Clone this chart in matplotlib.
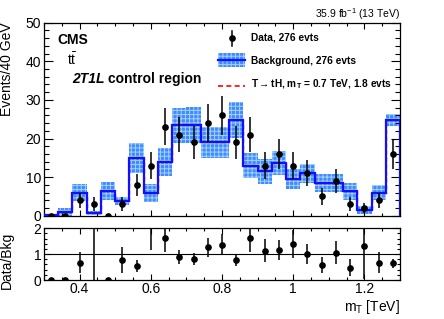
import numpy as np
import matplotlib
matplotlib.use("Agg")
import matplotlib.pyplot as plt
from matplotlib.patches import Rectangle
from matplotlib.lines import Line2D
from matplotlib.ticker import MultipleLocator

plt.rcParams['font.family'] = ['Liberation Sans', 'DejaVu Sans']
plt.rcParams['mathtext.fontset'] = 'custom'
plt.rcParams['mathtext.rm'] = 'Liberation Sans'
plt.rcParams['mathtext.it'] = 'Liberation Sans:italic'
plt.rcParams['mathtext.bf'] = 'Liberation Sans:bold'
plt.rcParams['hatch.linewidth'] = 0.7

# ---- data ----
bin_edges = np.linspace(0.3, 1.3, 26)
data = [0, 0, 4, 3, 0, 3, 8, 13, 23, 21, 19, 24, 26, 19, 21, 13, 16, 13, 11, 5, 9, 3, 2, 4, 16]
bkg = [0.3, 1.0, 6.0, 0.7, 6.4, 3.8, 15.0, 5.9, 14.0, 23.4, 23.5, 19.0, 19.0, 24.8, 13.0, 11.5,
       13.7, 9.4, 11.0, 8.5, 8.5, 6.3, 1.5, 6.0, 24.8]
bkg_err = [0.2, 1.1, 2.2, 0.6, 2.3, 1.0, 3.9, 2.3, 3.6, 4.6, 4.7, 4.0, 4.0, 4.6, 3.3, 3.2,
           3.1, 2.6, 2.5, 2.3, 2.3, 2.3, 1.0, 2.0, 1.5]
signal = [0, 0, 0, 0, 0, 0.02, 0.05, 0.1, 0.2, 0.3, 0.35, 0.3, 0.2, 0.1, 0.08, 0.04,
          0.03, 0.02, 0.01, 0, 0, 0, 0, 0, 0]
x_ticks = [0.4, 0.6, 0.8, 1.0, 1.2]
x_ticklabels = ['0.4', '0.6', '0.8', '1', '1.2']

d = np.array(data, float)
b = np.array(bkg, float)
be = np.array(bkg_err, float)
s = np.array(signal, float)
centers = 0.5 * (bin_edges[:-1] + bin_edges[1:])
width = bin_edges[1] - bin_edges[0]

W, H = 444, 319
fig = plt.figure(figsize=(W / 100, H / 100), dpi=100)

def fx(px):
    return px / W

def fy(py):
    return 1 - py / H

ax = fig.add_axes([fx(44), fy(215.7), fx(400) - fx(44), fy(22.7) - fy(215.7)])
axr = fig.add_axes([fx(44), fy(280), fx(400) - fx(44), fy(228.3) - fy(280)])

band_face = '#3f8cff'
band_hatch = '#a6d0ff'

# band
lo = np.clip(b - be, 0, None)
hi = b + be
ax.bar(centers, hi - lo, bottom=lo, width=width, color=band_face, hatch='++++',
       edgecolor=band_hatch, linewidth=0, zorder=1)
# signal (stacked) dashed
ax.stairs(b + s, bin_edges, color='red', lw=1.0, linestyle=(0, (3, 2)), zorder=2)
# background line
ax.stairs(b, bin_edges, color='#1010ff', lw=1.6, zorder=3)
# data
derr = np.sqrt(d)
ax.errorbar(centers, d, yerr=derr, fmt='o', color='black', ms=3.8, elinewidth=1.1,
            capsize=0, zorder=4)

ax.set_xlim(0.3, 1.3)
ax.set_ylim(0, 50)
ax.xaxis.set_major_locator(MultipleLocator(0.2))
ax.xaxis.set_minor_locator(MultipleLocator(0.05))
ax.yaxis.set_major_locator(MultipleLocator(10))
ax.yaxis.set_minor_locator(MultipleLocator(2))
ax.tick_params(which='both', direction='in', top=True, right=True, labelsize=10)
ax.tick_params(which='major', axis='y', length=6.5, width=0.8, pad=2)
ax.tick_params(which='minor', axis='y', length=3.3, width=0.8)
ax.tick_params(which='major', axis='x', length=4.5, width=0.8)
ax.tick_params(which='minor', axis='x', length=2.3, width=0.8)
ax.tick_params(axis='x', labelbottom=False)
ax.set_ylabel('Events/40 GeV', fontsize=10, loc='top')
ax.yaxis.set_label_coords((14 - 44) / 356, 1.0)

# ratio
with np.errstate(divide='ignore', invalid='ignore'):
    r = d / b
    rel = np.sqrt(np.where(d > 0, 1.0 / np.where(d > 0, d, 1), 0) + (be / b) ** 2)
    rerr = np.where(d > 0, r * rel, 0)
axr.axhline(1, color='black', lw=0.8, zorder=1)
axr.errorbar(centers, r, yerr=rerr, fmt='o', color='black', ms=3.8, elinewidth=1.1,
             capsize=0, zorder=3)
axr.set_xlim(0.3, 1.3)
axr.set_ylim(0, 2)
axr.set_xticks(x_ticks)
axr.set_xticklabels(x_ticklabels)
axr.xaxis.set_minor_locator(MultipleLocator(0.05))
axr.yaxis.set_major_locator(MultipleLocator(1))
axr.yaxis.set_minor_locator(MultipleLocator(0.2))
axr.tick_params(which='both', direction='in', top=True, right=True, labelsize=10)
axr.tick_params(which='major', axis='y', length=4.5, width=0.8, pad=2)
axr.tick_params(which='minor', axis='y', length=2.3, width=0.8)
axr.tick_params(which='major', axis='x', length=4.5, width=0.8, pad=1.5)
axr.tick_params(which='minor', axis='x', length=2.3, width=0.8)
axr.set_ylabel('Data/Bkg', fontsize=10, loc='top')
axr.yaxis.set_label_coords((14 - 44) / 356, 0.93)
axr.set_xlabel(r'm$_\mathregular{T}$ [TeV]', fontsize=10, loc='right', va='top')
axr.xaxis.set_label_coords(1.0, (280 - 298) / 51.7)

for a in (ax, axr):
    for sp in a.spines.values():
        sp.set_linewidth(0.9)

# texts
fig.text(fx(400), fy(14), r'35.9 fb$^{-1}$ (13 TeV)', fontsize=7.5, ha='right', va='center')
fig.text(fx(57), fy(40), 'CMS', fontsize=10, fontweight='bold', ha='left', va='center')
fig.text(fx(67), fy(60), r'$\mathregular{t\bar{t}}$', fontsize=10, ha='left', va='center')
fig.text(fx(72), fy(79), '2T1L', fontsize=10, fontweight='bold', fontstyle='italic',
         ha='left', va='center')
fig.text(fx(108), fy(79), 'control region', fontsize=10, fontweight='bold',
         ha='left', va='center')

# legend (manual)
fs_leg = 7.3
fig.add_artist(Line2D([fx(232), fx(232)], [fy(31), fy(46)], color='black', lw=1.1))
fig.add_artist(Line2D([fx(232)], [fy(38)], marker='o', color='black', ms=3.8))
fig.text(fx(251), fy(38), 'Data, 276 evts', fontsize=fs_leg, fontweight='bold', va='center')

fig.add_artist(Rectangle((fx(218), fy(67)), fx(245) - fx(218), fy(53) - fy(67),
                         transform=fig.transFigure, facecolor=band_face, hatch='++++',
                         edgecolor=band_hatch, linewidth=0))
fig.add_artist(Line2D([fx(218), fx(245)], [fy(60), fy(60)], color='#1010ff', lw=1.6))
fig.text(fx(251), fy(61), 'Background, 276 evts', fontsize=fs_leg, fontweight='bold', va='center')

fig.add_artist(Line2D([fx(218), fx(245)], [fy(86), fy(86)], color='red', lw=1.2,
                      linestyle=(0, (3, 2))))
fig.text(fx(251), fy(84), r'T$\mathbf{\rightarrow}$tH, m$_\mathbf{T}$ = 0.7 TeV, 1.8 evts',
         fontsize=fs_leg, fontweight='bold', va='center')

fig.savefig('out.png', dpi=100)
